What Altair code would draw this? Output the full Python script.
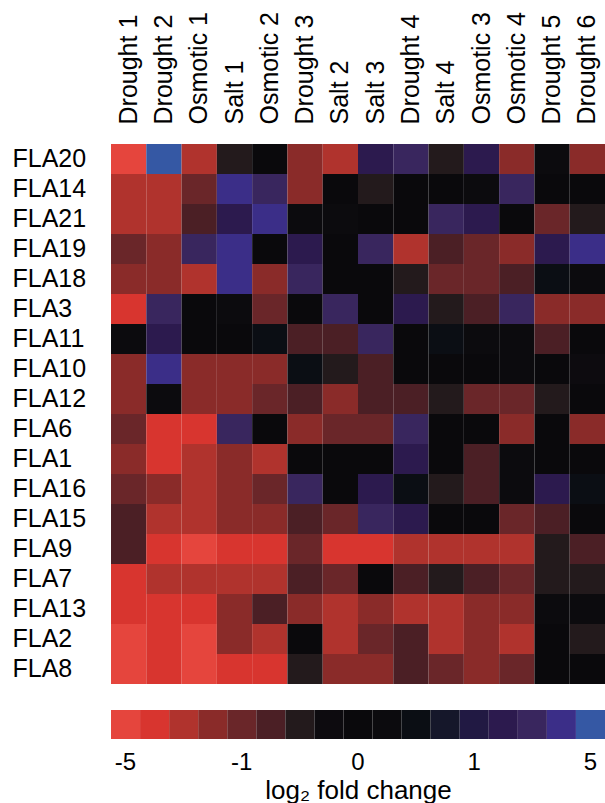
import altair as alt
import pandas as pd

FONT = "Liberation Sans"

genes = ["FLA20", "FLA14", "FLA21", "FLA19", "FLA18", "FLA3", "FLA11", "FLA10",
         "FLA12", "FLA6", "FLA1", "FLA16", "FLA15", "FLA9", "FLA7", "FLA13",
         "FLA2", "FLA8"]

conditions = ["Drought 1", "Drought 2", "Osmotic 1", "Salt 1", "Osmotic 2",
              "Drought 3", "Salt 2", "Salt 3", "Drought 4", "Salt 4",
              "Osmotic 3", "Osmotic 4", "Drought 5", "Drought 6"]

# log2 fold change of each gene across the conditions (same order as above)
fla20 = [-5, 5, -3, -0.5, 0, -2, -3, 2, 3, -0.5, 2, -2, 0.25, -2]
fla14 = [-3, -3, -1, 4, 3, -2, 0, -0.5, 0, 0, 0.25, 3, 0, 0]
fla21 = [-3, -3, -0.75, 2, 4, 0.25, 0.25, 0, 0, 3, 2, 0, -1, -0.5]
fla19 = [-1, -2, 3, 4, 0, 2, 0, 3, -3, -0.75, -1, -2, 2, 4]
fla18 = [-2, -2, -3, 4, -2, 3, 0, 0, -0.5, -1, -1, -0.75, 0.5, 0.25]
fla3 = [-4, 3, 0, 0.25, -1, 0, 3, 0, 2, -0.5, -0.75, 3, -2, -2]
fla11 = [0.25, 2, 0, 0, 0.5, -0.75, -0.75, 3, 0, 0.5, 0.25, 0.25, -0.75, 0]
fla10 = [-2, 4, -2, -2, -2, 0.5, -0.5, -0.75, 0, 0, 0, 0.25, 0, -0.25]
fla12 = [-2, 0.25, -2, -2, -1, -0.75, -2, -0.75, -0.75, -0.5, -1, -1, -0.5, 0]
fla6 = [-1, -4, -4, 3, 0, -2, -1, -1, 3, 0, 0, -2, 0, -2]
fla1 = [-2, -4, -3, -2, -3, 0, 0, 0, 2, 0, -0.75, 0.25, 0, 0]
fla16 = [-1, -2, -3, -2, -1, 3, 0, 2, 0.5, -0.5, -0.75, 0.25, 2, 0.5]
fla15 = [-0.75, -3, -3, -2, -2, -0.75, -1, 3, 2, 0, 0, -1, -0.75, 0]
fla9 = [-0.75, -4, -5, -4, -4, -1, -4, -4, -3, -3, -3, -3, -0.5, -0.75]
fla7 = [-4, -3, -3, -3, -3, -0.75, -1, 0, -0.75, -0.5, -0.75, -1, -0.5, -0.5]
fla13 = [-4, -4, -4, -2, -0.75, -2, -3, -2, -3, -3, -2, -2, 0.25, 0.25]
fla2 = [-5, -4, -5, -2, -3, 0, -3, -1, -0.75, -3, -2, -3, 0, -0.5]
fla8 = [-5, -4, -5, -4, -4, -0.5, -2, -2, -0.75, -1, -2, -1, 0, 0]

rows = [fla20, fla14, fla21, fla19, fla18, fla3, fla11, fla10, fla12, fla6,
        fla1, fla16, fla15, fla9, fla7, fla13, fla2, fla8]

# colour key: one swatch per level, with the class boundaries between them
levels = [-5, -4, -3, -2, -1, -0.75, -0.5, -0.25, 0, 0.25, 0.5, 0.75, 1, 2, 3, 4, 5]
cutoffs = [-4.5, -3.5, -2.5, -1.5, -0.875, -0.625, -0.375, -0.125,
           0.125, 0.375, 0.625, 0.875, 1.5, 2.5, 3.5, 4.5]
palette = ["#E5453D", "#D8352F", "#B0332D", "#8A2B29", "#6A2629", "#4B1F25",
           "#231A1C", "#0D0B0F", "#0A090C", "#0C0B0E", "#0B0E14", "#15172A",
           "#211943", "#2C1A4E", "#39265E", "#3B2E88", "#3558A4"]
key_labels = [-5, -1, 0, 1, 5]

records = []
for gene, vals in zip(genes, rows):
    for cond, v in zip(conditions, vals):
        records.append({"gene": gene, "condition": cond, "log2fc": v})
heat_df = pd.DataFrame(records)
key_df = pd.DataFrame({"log2fc": levels})

color_scale = alt.Scale(type="threshold", domain=cutoffs, range=palette)

heat = alt.Chart(heat_df).mark_rect().encode(
    x=alt.X("condition:N", sort=conditions,
            axis=alt.Axis(orient="top", title=None, labelAngle=270,
                          labelAlign="left", labelBaseline="middle",
                          labelPadding=20, ticks=False, domain=False,
                          labelFontSize=25, labelFont=FONT, labelColor="black")),
    y=alt.Y("gene:N", sort=genes,
            axis=alt.Axis(title=None, labelAlign="left", labelBaseline="middle",
                          labelPadding=99, ticks=False, domain=False,
                          labelFontSize=25, labelFont=FONT, labelColor="black")),
    color=alt.Color("log2fc:Q", scale=color_scale, legend=None),
).properties(width=494, height=540)

label_expr = "indexof([" + ",".join(str(v) for v in key_labels) + "], datum.value) >= 0 ? datum.label : ''"

key = alt.Chart(key_df).mark_rect().encode(
    x=alt.X("log2fc:O", sort="ascending",
            axis=alt.Axis(title="log₂ fold change", labelExpr=label_expr,
                          labelAngle=0, ticks=False, domain=False,
                          labelPadding=11, titlePadding=3,
                          labelFontSize=24, labelFont=FONT, labelColor="black",
                          titleFontSize=26, titleFont=FONT, titleColor="black",
                          titleFontWeight="normal")),
    color=alt.Color("log2fc:Q", scale=color_scale, legend=None),
).properties(width=494, height=29)

chart = alt.vconcat(heat, key, spacing=26).properties(
    padding={"left": 12, "top": 11, "right": 0, "bottom": 0},
    background="white",
).configure_view(stroke=None)

chart.save("out.html", embed_options={"renderer": "svg", "actions": False})
